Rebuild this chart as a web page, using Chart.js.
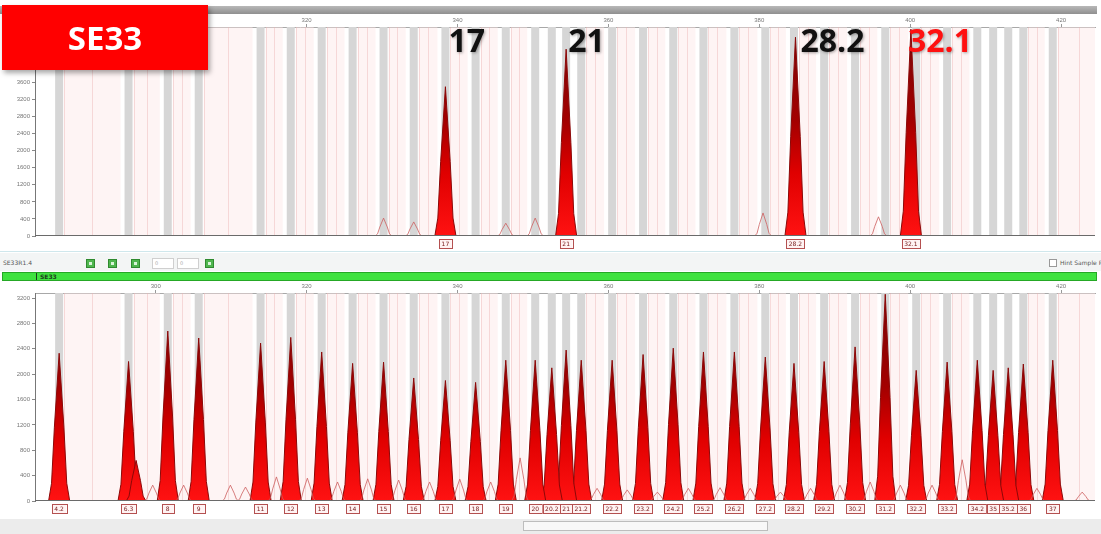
<!DOCTYPE html>
<html>
<head>
<meta charset="utf-8">
<script src="https://cdn.jsdelivr.net/npm/chart.js@4.4.1/dist/chart.umd.min.js"></script>
<style>
  body { margin: 0; width: 1101px; height: 534px; background: #fff; position: relative; overflow: hidden; font-family: "Open Sans", sans-serif; }
  .abs { position: absolute; }
  #bar { left: 0; top: 6px; width: 1097px; height: 8px; background: linear-gradient(#b8b8b8, #8f8f8f); }
  #topWrap { left: 0; top: 14px; width: 1101px; height: 236px; }
  #botWrap { left: 0; top: 281px; width: 1101px; height: 240px; }
  #tag { left: 2px; top: 5px; width: 206px; height: 65px; background: #ff0000; color: #fff; font: bold 33px "Open Sans"; display: flex; align-items: center; justify-content: center; box-shadow: 2px 3px 5px rgba(0,0,0,0.35); }
  #sep { left: 0; top: 251px; width: 1101px; height: 1px; background: #cfe7ec; }
  #tool { left: 0; top: 253px; width: 1101px; height: 18px; background: #f3f5f5; }
  .tiny { font: 6px "DejaVu Sans"; color: #555; }
  .gico { top: 259px; width: 9px; height: 9px; background: #4fb64f; border: 1px solid #2f8a2f; box-sizing: border-box; }
  .gico::after { content: ""; position: absolute; left: 2px; top: 2px; width: 3px; height: 3px; background: #d9f5d9; }
  .inp { top: 258px; width: 22px; height: 11px; background: #fff; border: 1px solid #cfcfcf; box-sizing: border-box; font: 5px "DejaVu Sans"; color: #aaa; padding-left: 2px; line-height: 9px; }
  #green { left: 2px; top: 272px; width: 1095px; height: 9px; background: #3fe23f; border: 1px solid #25a825; box-sizing: border-box; }
  #gtag { left: 36px; top: 273px; width: 26px; height: 7px; font: bold 6px "DejaVu Sans"; color: #1d3d1d; line-height: 7px; border-left: 1px solid #1d3d1d; padding-left: 3px; }
  #strip { left: 0; top: 519px; width: 1101px; height: 15px; background: #ececec; }
  #thumb { left: 523px; top: 521px; width: 245px; height: 10px; background: #f8f8f8; border: 1px solid #bdbdbd; box-sizing: border-box; }
</style>
</head>
<body>
<div class="abs" id="bar"></div>
<div class="abs" id="topWrap"><canvas id="topChart"></canvas></div>
<div class="abs" id="tag">SE33</div>
<div class="abs" id="sep"></div>
<div class="abs" id="tool"></div>
<div class="abs tiny" style="left:3px; top:259px;">SE33R1.4</div>
<div class="abs gico" style="left:86px;"></div>
<div class="abs gico" style="left:108px;"></div>
<div class="abs gico" style="left:131px;"></div>
<div class="abs inp" style="left:152px;">0</div>
<div class="abs inp" style="left:177px;">0</div>
<div class="abs gico" style="left:205px;"></div>
<div class="abs" style="left:1049px; top:259px; width:8px; height:8px; border:1px solid #999; box-sizing:border-box; background:#fff;"></div>
<div class="abs tiny" style="left:1060px; top:259px; white-space:nowrap;">Hint Sample P</div>
<div class="abs" id="green"></div>
<div class="abs" id="gtag">SE33</div>
<div class="abs" id="botWrap"><canvas id="botChart"></canvas></div>
<div class="abs" id="strip"></div>
<div class="abs" id="thumb"></div>
<script>
// size scale (bp) and y ticks
const rulerTicks = [300, 320, 340, 360, 380, 400, 420]
const topYTicks = [0, 400, 800, 1200, 1600, 2000, 2400, 2800, 3200, 3600, 4000, 4400, 4800]
const botYTicks = [0, 400, 800, 1200, 1600, 2000, 2400, 2800, 3200]

// sample (top panel)
const sampleAlleles = ['17', '21', '28.2', '32.1']
const sampleSizes = [338.4, 354.4, 384.8, 400.1]
const sampleRfu = [3500, 4380, 4660, 4850]
const sampleMinorSizes = [330.2, 334.2, 346.4, 350.3, 380.5, 395.8]
const sampleMinorRfu = [420, 330, 300, 420, 540, 450]

// allelic ladder (bottom panel)
const ladderAlleles = ['4.2', '6.3', '8', '9', '11', '12', '13', '14', '15', '16', '17', '18', '19', '20', '20.2', '21', '21.2',
  '22.2', '23.2', '24.2', '25.2', '26.2', '27.2', '28.2', '29.2', '30.2', '31.2', '32.2', '33.2', '34.2', '35', '35.2', '36', '37']
const ladderSizes = [287.2, 296.4, 301.6, 305.7, 313.9, 317.9, 322.0, 326.1, 330.2, 334.2, 338.4, 342.4, 346.4, 350.3, 352.5, 354.4, 356.4,
  360.5, 364.6, 368.6, 372.6, 376.7, 380.8, 384.6, 388.6, 392.7, 396.7, 400.8, 404.9, 408.9, 411.0, 413.0, 415.0, 418.9]
const ladderRfu = [2330, 2200, 2680, 2570, 2490, 2580, 2350, 2170, 2190, 1940, 1900, 1870, 2220, 2220, 2100, 2380, 2220,
  2220, 2310, 2410, 2350, 2350, 2270, 2170, 2200, 2430, 3260, 2060, 2190, 2220, 2060, 2100, 2160, 2220]
const ladderShoulderSizes = [297.4]
const ladderShoulderRfu = [640]
const ladderMinorSizes = [299.6, 303.7, 309.9, 311.9, 316.0, 320.1, 324.1, 328.1, 332.2, 336.3, 340.3, 344.4, 348.3, 358.5,
  362.5, 366.5, 370.6, 374.8, 378.8, 382.8, 386.8, 390.7, 394.7, 398.7, 402.9, 406.9, 416.8, 422.8]
const ladderMinorRfu = [250, 250, 250, 220, 380, 360, 300, 350, 330, 300, 345, 300, 680, 200,
  175, 140, 200, 210, 200, 140, 200, 250, 300, 250, 250, 650, 200, 140]

const DARK = '#8c0808'
const MINOR = 'rgba(205,95,95,0.8)'

// peak fill: dark at the narrow top, bright red near the base
const redFill = (context) => {
  const { ctx, chartArea: a } = context.chart
  if (!a) return '#e00000'
  const g = ctx.createLinearGradient(0, a.top, 0, a.bottom)
  g.addColorStop(0, '#7a0606')
  g.addColorStop(0.45, '#a30000')
  g.addColorStop(0.7, '#e00000')
  g.addColorStop(1, '#ff1212')
  return g
}

// one peak glyph: base, flank, apex
const peak = (pos, h, w) => [
  { x: pos - w, y: 0 }, { x: pos - w * 0.72, y: h * 0.12 }, { x: pos - w * 0.45, y: h * 0.5 },
  { x: pos, y: h },
  { x: pos + w * 0.45, y: h * 0.5 }, { x: pos + w * 0.72, y: h * 0.12 }, { x: pos + w, y: 0 }
]

const peakSets = (sizes, rfu, filled, w) => sizes.map((s, i) => ({
  data: peak(s, rfu[i], w),
  borderColor: filled ? DARK : MINOR,
  backgroundColor: filled ? redFill : 'transparent',
  fill: filled ? 'origin' : false,
  borderWidth: 1,
  pointRadius: 0,
  tension: 0
}))

const binsPlugin = {
  id: 'bins',
  beforeDatasetsDraw(chart, args, opts) {
    const { ctx, chartArea: a, scales: { x } } = chart
    const px = opts.positions.map(p => x.getPixelForValue(p))
    const edges = px.concat([a.right + 14])
    ctx.save()
    ctx.beginPath()
    ctx.rect(a.left, a.top, a.right - a.left, a.bottom - a.top)
    ctx.clip()
    for (let i = 0; i < px.length; i++) {
      const l = px[i] + 5
      const r = edges[i + 1] - 8
      if (r - l < 4) continue
      ctx.fillStyle = 'rgba(252,228,228,0.42)'
      ctx.fillRect(l, a.top, r - l, a.bottom - a.top)
      ctx.fillStyle = 'rgba(236,172,172,0.4)'
      ctx.fillRect(Math.round(l), a.top, 1, a.bottom - a.top)
      ctx.fillRect(Math.round((l + r) / 2), a.top, 1, a.bottom - a.top)
    }
    ctx.fillStyle = '#d6d6d6'
    px.forEach(p => ctx.fillRect(p - 4, a.top, 8, a.bottom - a.top))
    ctx.restore()
  },
  afterDatasetsDraw(chart) {
    const { ctx, chartArea: a } = chart
    ctx.save()
    ctx.fillStyle = '#6a6a6a'
    ctx.fillRect(a.left, Math.round(a.bottom) - 1, a.right - a.left, 1)
    ctx.restore()
  }
}

const boxPlugin = {
  id: 'alleleBoxes',
  afterDraw(chart, args, opts) {
    const { ctx, chartArea: a, scales: { x } } = chart
    ctx.save()
    ctx.font = '6px "DejaVu Sans"'
    ctx.textAlign = 'center'
    ctx.textBaseline = 'middle'
    opts.sizes.forEach((s, i) => {
      const cx = x.getPixelForValue(s)
      const w = Math.max(12, ctx.measureText(opts.names[i]).width + 5)
      const y = a.bottom + 3
      ctx.fillStyle = '#fff3f3'
      ctx.fillRect(cx - w / 2, y, w, 10)
      ctx.strokeStyle = '#b45050'
      ctx.lineWidth = 1
      ctx.strokeRect(Math.round(cx - w / 2) + 0.5, y + 0.5, Math.round(w), 9)
      ctx.fillStyle = '#7a2020'
      ctx.fillText(opts.names[i], cx, y + 5.5)
    })
    ctx.restore()
  }
}

const calloutPlugin = {
  id: 'callouts',
  afterDraw(chart, args, opts) {
    const { ctx, scales: { x } } = chart
    ctx.save()
    ctx.font = 'bold 32px "Open Sans"'
    ctx.textBaseline = 'alphabetic'
    ctx.shadowColor = 'rgba(0,0,0,0.35)'
    ctx.shadowBlur = 3
    ctx.shadowOffsetX = 1
    ctx.shadowOffsetY = 1
    opts.names.forEach((n, i) => {
      ctx.fillStyle = opts.colors[i]
      ctx.fillText(n, x.getPixelForValue(opts.sizes[i]) + opts.shift[i], 38)
    })
    ctx.restore()
  }
}

const makeOptions = (yTicks, yMax, rulerH, padBottom) => ({
  responsive: true,
  maintainAspectRatio: false,
  animation: false,
  layout: { padding: { left: 0, right: 6, top: 0, bottom: padBottom } },
  plugins: { legend: { display: false }, tooltip: { enabled: false } },
  scales: {
    x: {
      type: 'linear',
      position: 'top',
      min: 284,
      max: 424.5,
      afterBuildTicks: axis => { axis.ticks = rulerTicks.map(v => ({ value: v })) },
      afterFit: axis => { axis.height = rulerH },
      ticks: { font: { size: 6 }, color: '#777', padding: 0, maxRotation: 0, callback: v => String(v) },
      grid: { drawOnChartArea: false, tickLength: 3, color: '#999' },
      border: { color: '#a8a8a8' }
    },
    y: {
      min: 0,
      max: yMax,
      afterBuildTicks: axis => { axis.ticks = yTicks.map(v => ({ value: v })) },
      afterFit: axis => { axis.width = 35 },
      ticks: { font: { size: 6 }, color: '#777', padding: 2, callback: v => String(v) },
      grid: { drawOnChartArea: false, tickLength: 3, color: '#888' },
      border: { color: '#777' }
    }
  }
})

const topOptions = makeOptions(topYTicks, 4900, 13, 14)
topOptions.plugins.bins = { positions: ladderSizes }
topOptions.plugins.alleleBoxes = { sizes: sampleSizes, names: sampleAlleles }
topOptions.plugins.callouts = {
  sizes: sampleSizes,
  names: sampleAlleles,
  colors: ['#111', '#111', '#111', '#ff1010'],
  shift: [3, 2, 5, -3]
}

new Chart(document.getElementById('topChart'), {
  type: 'line',
  data: {
    datasets: peakSets(sampleMinorSizes, sampleMinorRfu, false, 1.1)
      .concat(peakSets(sampleSizes, sampleRfu, true, 1.4))
  },
  options: topOptions,
  plugins: [binsPlugin, boxPlugin, calloutPlugin]
})

const botOptions = makeOptions(botYTicks, 3280, 12, 20)
botOptions.plugins.bins = { positions: ladderSizes }
botOptions.plugins.alleleBoxes = { sizes: ladderSizes, names: ladderAlleles }

new Chart(document.getElementById('botChart'), {
  type: 'line',
  data: {
    datasets: peakSets(ladderMinorSizes, ladderMinorRfu, false, 1.1)
      .concat(peakSets(ladderShoulderSizes, ladderShoulderRfu, true, 1.3))
      .concat(peakSets(ladderSizes, ladderRfu, true, 1.4))
  },
  options: botOptions,
  plugins: [binsPlugin, boxPlugin]
})
</script>
</body>
</html>
